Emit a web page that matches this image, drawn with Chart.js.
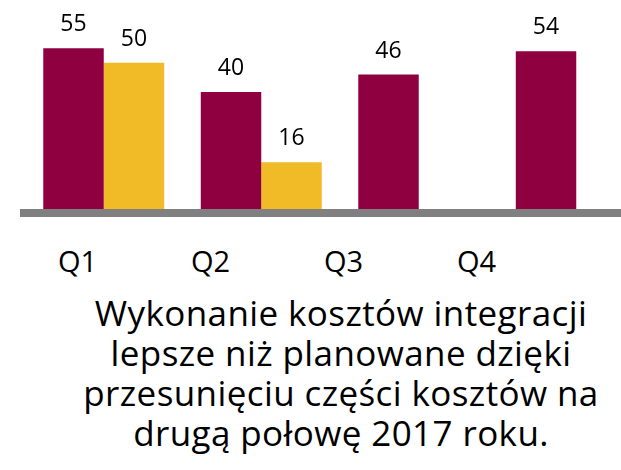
<!DOCTYPE html>
<html lang="pl">
<head>
    <meta charset="UTF-8">
    <title>Koszty integracji</title>
    <script src="https://cdn.jsdelivr.net/npm/chart.js"></script>
    <style>
        body { margin: 0; width: 621px; height: 470px; overflow: hidden; background: #fff; position: relative; font-family: "Open Sans", sans-serif; color: #000; }
        #chartBox { position: absolute; left: 0; top: 0; width: 660px; height: 217px; }
        #quarters { position: absolute; left: 11px; top: 246px; display: grid; grid-template-columns: repeat(4, 133px); font-size: 29px; line-height: 30px; text-align: center; }
        #caption { position: absolute; left: 61px; right: 0; top: 293px; font-size: 35px; letter-spacing: 0.4px; line-height: 40px; text-align: center; }
    </style>
</head>
<body>

    <div id="chartBox"><canvas id="costChart"></canvas></div>
    <div id="quarters"></div>
    <div id="caption">Wykonanie kosztów integracji<br>lepsze niż planowane dzięki<br>przesunięciu części kosztów na<br>drugą połowę 2017 roku.</div>

    <script>
        // dane
        const quarters = ["Q1", "Q2", "Q3", "Q4"];
        const series1 = [55, 40, 46, 54];
        const series2 = [50, 16, null, null];

        document.getElementById("quarters").innerHTML = quarters.map(q => "<span>" + q + "</span>").join("");

        // gruba szara linia osi pod słupkami
        const baseLine = {
            id: "baseLine",
            beforeDatasetsDraw(chart) {
                const { ctx, chartArea } = chart;
                ctx.save();
                ctx.fillStyle = "#808080";
                ctx.fillRect(chartArea.left - 5, chartArea.bottom, chart.width, 8);
                ctx.restore();
            }
        };

        // wartości nad słupkami
        const valueLabels = {
            id: "valueLabels",
            afterDatasetsDraw(chart) {
                const { ctx } = chart;
                ctx.save();
                ctx.font = "23px 'Open Sans'";
                ctx.fillStyle = "#000";
                ctx.textAlign = "center";
                ctx.textBaseline = "alphabetic";
                chart.data.datasets.forEach((ds, i) => {
                    chart.getDatasetMeta(i).data.forEach((bar, j) => {
                        if (ds.data[j] == null) return;
                        ctx.fillText(ds.data[j], bar.x, bar.y - 17);
                    });
                });
                ctx.restore();
            }
        };

        new Chart(document.getElementById("costChart"), {
            type: "bar",
            data: {
                labels: quarters,
                datasets: [
                    { label: "Seria 1", data: series1, backgroundColor: "#8f0041" },
                    { label: "Seria 2", data: series2, backgroundColor: "#f0bb27" }
                ]
            },
            options: {
                responsive: true,
                maintainAspectRatio: false,
                animation: false,
                layout: { padding: { left: 25, right: 5, top: 0, bottom: 8 } },
                datasets: { bar: { categoryPercentage: 0.768, barPercentage: 1 } },
                plugins: { legend: { display: false }, tooltip: { enabled: false } },
                scales: {
                    x: { display: false },
                    y: { display: false, min: 0, max: 71.5 }
                }
            },
            plugins: [baseLine, valueLabels]
        });
    </script>

</body>
</html>
